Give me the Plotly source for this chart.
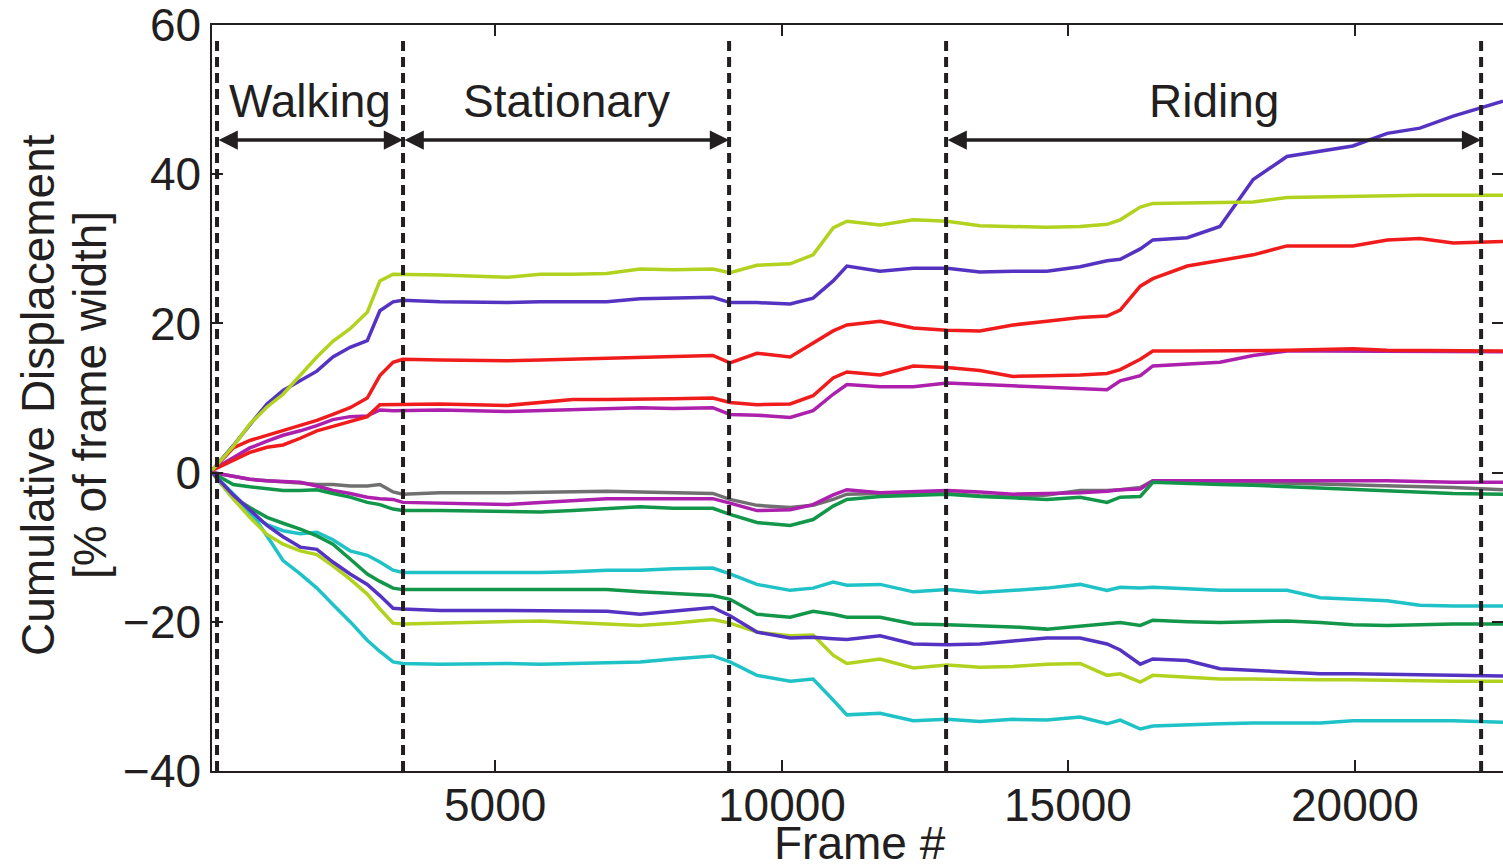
import plotly.graph_objects as go

# ---------------- data ----------------
FRAMES = [60, 430, 720, 1020, 1300, 1600, 1890, 2170, 2470, 2770, 2990, 3220,
          3390, 4040, 5210, 5790, 6360, 6950, 7530, 8110, 8800, 9100, 9570,
          10150, 10550, 10900, 11140, 11720, 12300, 12890, 13460, 14040, 14630,
          15210, 15680, 15910, 16260, 16480, 17080, 17650, 18230, 18820, 19400,
          19970, 20570, 21140, 21720, 22590]

YELLOWGREEN_1 = [0.3, 3.5, 6.5, 8.8, 10.5, 13.1, 15.5, 17.6, 19.3, 21.5, 25.7, 26.6,
                 26.6, 26.5, 26.2, 26.6, 26.6, 26.7, 27.3, 27.2, 27.3, 26.8, 27.8,
                 28.0, 29.2, 32.8, 33.7, 33.2, 33.9, 33.7, 33.1, 33.0, 32.9,
                 33.0, 33.3, 33.9, 35.6, 36.1, 36.2, 36.3, 36.3, 36.9, 37.0,
                 37.1, 37.1, 37.2, 37.2, 37.2]
BLUE_1 = [0.3, 3.6, 6.4, 9.2, 11.0, 12.3, 13.6, 15.5, 16.8, 17.7, 21.7, 22.9,
          23.1, 22.9, 22.8, 22.9, 22.9, 22.9, 23.3, 23.4, 23.5, 22.8, 22.8,
          22.6, 23.4, 25.7, 27.7, 27.0, 27.4, 27.4, 26.9, 27.0, 27.0,
          27.6, 28.4, 28.6, 30.0, 31.2, 31.5, 33.0, 39.3, 42.4, 43.1,
          43.8, 45.5, 46.2, 47.8, 49.8]
RED_1 = [0.3, 3.3, 4.3, 5.0, 5.6, 6.3, 7.0, 7.8, 8.7, 10.0, 13.0, 14.8,
         15.2, 15.1, 15.0, 15.1, 15.2, 15.3, 15.5, 15.5, 15.7, 14.7, 16.0,
         15.5, 17.4, 19.0, 19.8, 20.3, 19.4, 19.1, 19.0, 19.8, 20.3,
         20.8, 21.0, 21.8, 25.0, 26.0, 27.7, 28.5, 29.2, 30.4, 30.4,
         30.4, 31.2, 31.4, 30.8, 31.0]
RED_2 = [0.3, 1.6, 2.7, 3.4, 3.7, 4.6, 5.6, 6.2, 6.9, 7.5, 9.1, 9.1,
         9.1, 9.2, 9.0, 9.4, 9.8, 9.8, 9.8, 9.9, 10.0, 9.4, 9.1,
         9.2, 10.3, 12.7, 13.5, 13.1, 14.3, 14.1, 13.7, 12.9, 13.0,
         13.1, 13.3, 13.8, 15.2, 16.3, 16.3, 16.3, 16.3, 16.4, 16.5,
         16.6, 16.4, 16.4, 16.4, 16.3]
MAGENTA_1 = [0.3, 2.0, 3.3, 4.2, 5.0, 5.6, 6.3, 7.1, 7.5, 7.6, 8.4, 8.3,
             8.3, 8.4, 8.2, 8.3, 8.5, 8.6, 8.7, 8.6, 8.7, 7.8, 7.7,
             7.4, 8.3, 10.5, 11.8, 11.5, 11.5, 12.0, 11.8, 11.6, 11.4,
             11.3, 11.1, 12.3, 13.0, 14.3, 14.5, 14.8, 15.7, 16.3, 16.3,
             16.3, 16.3, 16.3, 16.3, 16.2]
GRAY_1 = [0.0, -0.5, -0.9, -1.1, -1.3, -1.4, -1.6, -1.6, -1.8, -1.8, -1.6, -2.6,
          -2.9, -2.7, -2.7, -2.6, -2.6, -2.5, -2.6, -2.7, -2.8, -3.6, -4.4,
          -4.7, -4.4, -3.6, -2.9, -2.8, -2.8, -2.8, -3.1, -3.3, -3.0,
          -2.4, -2.4, -2.3, -2.0, -1.1, -1.1, -1.2, -1.3, -1.4, -1.5,
          -1.6, -1.8, -1.9, -2.0, -2.3]
MAGENTA_2 = [0.0, -0.5, -0.9, -1.1, -1.2, -1.3, -1.8, -2.4, -2.8, -3.3, -3.5, -3.6,
             -4.0, -4.1, -4.3, -4.0, -3.7, -3.5, -3.5, -3.5, -3.5, -4.1, -5.1,
             -5.0, -4.3, -3.0, -2.3, -2.7, -2.5, -2.4, -2.6, -2.9, -2.8,
             -2.7, -2.5, -2.3, -2.2, -1.1, -1.1, -1.1, -1.1, -1.0, -1.0,
             -1.1, -1.1, -1.2, -1.3, -1.3]
GREEN_1 = [0.0, -1.6, -1.9, -2.2, -2.4, -2.4, -2.3, -2.8, -3.3, -4.0, -4.3, -4.9,
           -5.1, -5.1, -5.2, -5.3, -5.1, -4.8, -4.6, -4.8, -4.8, -5.6, -6.7,
           -7.1, -6.3, -4.5, -3.6, -3.2, -3.1, -2.9, -3.2, -3.4, -3.6,
           -3.3, -4.0, -3.3, -3.2, -1.3, -1.5, -1.6, -1.7, -1.9, -2.1,
           -2.3, -2.5, -2.7, -2.8, -2.9]
CYAN_1 = [0.0, -3.5, -5.5, -7.0, -7.8, -8.2, -8.0, -9.0, -10.5, -11.1, -12.0, -13.1,
          -13.4, -13.4, -13.5, -13.4, -13.3, -13.1, -13.1, -12.9, -12.8, -13.6, -15.0,
          -15.8, -15.5, -14.7, -15.1, -15.0, -16.0, -15.7, -16.1, -15.8, -15.5,
          -15.0, -15.8, -15.4, -15.5, -15.4, -15.6, -15.8, -15.8, -15.8, -16.8,
          -17.0, -17.2, -17.8, -17.9, -17.9]
GREEN_2 = [0.0, -3.3, -4.7, -6.0, -6.8, -7.6, -8.5, -9.6, -11.6, -13.6, -14.6, -15.5,
           -15.7, -15.7, -15.8, -15.8, -15.7, -15.7, -16.0, -16.2, -16.5, -17.0, -19.0,
           -19.4, -18.6, -19.0, -19.4, -19.4, -20.3, -20.4, -20.5, -20.7, -21.0,
           -20.6, -20.3, -20.1, -20.5, -19.8, -20.0, -20.1, -20.0, -19.9, -20.1,
           -20.4, -20.5, -20.4, -20.3, -20.3]
BLUE_2 = [0.0, -3.0, -5.0, -7.1, -8.6, -10.0, -10.3, -12.0, -13.6, -15.0, -16.5, -18.2,
          -18.3, -18.5, -18.5, -18.5, -18.6, -18.6, -19.0, -18.6, -18.1, -19.2, -21.4,
          -22.2, -22.1, -22.3, -22.4, -21.9, -23.0, -23.1, -23.0, -22.6, -22.2,
          -22.2, -23.0, -23.8, -25.7, -25.0, -25.2, -26.3, -26.5, -26.8, -27.0,
          -27.0, -27.1, -27.2, -27.2, -27.3]
YELLOWGREEN_2 = [0.0, -3.5, -6.0, -8.3, -9.6, -10.5, -11.0, -12.5, -14.3, -16.3, -18.3, -20.2,
                 -20.3, -20.2, -20.0, -19.9, -20.1, -20.3, -20.5, -20.2, -19.7, -20.2, -21.4,
                 -21.9, -21.8, -24.5, -25.6, -25.0, -26.2, -25.8, -26.1, -26.0, -25.7,
                 -25.6, -27.2, -27.0, -28.1, -27.2, -27.4, -27.7, -27.7, -27.8, -27.8,
                 -27.8, -27.9, -27.9, -28.0, -28.0]
CYAN_2 = [0.0, -2.9, -5.1, -8.5, -11.8, -13.6, -15.5, -17.7, -20.0, -22.5, -24.0, -25.4,
          -25.6, -25.7, -25.6, -25.7, -25.6, -25.5, -25.4, -25.0, -24.6, -25.4, -27.2,
          -28.0, -27.7, -30.5, -32.5, -32.3, -33.3, -33.1, -33.4, -33.1, -33.2,
          -32.8, -33.7, -33.2, -34.4, -34.0, -33.8, -33.7, -33.6, -33.6, -33.6,
          -33.3, -33.3, -33.2, -33.3, -33.5]

SERIES = [
    ("gray", GRAY_1, "#707070"),
    ("magenta 2", MAGENTA_2, "#ad1fad"),
    ("green 1", GREEN_1, "#12964a"),
    ("cyan 1", CYAN_1, "#1fc2c6"),
    ("green 2", GREEN_2, "#12964a"),
    ("cyan 2", CYAN_2, "#1fc2c6"),
    ("yellow-green 2", YELLOWGREEN_2, "#b1d21f"),
    ("blue 2", BLUE_2, "#5533c2"),
    ("magenta 1", MAGENTA_1, "#ad1fad"),
    ("red 2", RED_2, "#f01c1c"),
    ("red 1", RED_1, "#f01c1c"),
    ("blue 1", BLUE_1, "#5533c2"),
    ("yellow-green 1", YELLOWGREEN_1, "#b1d21f"),
]

PHASE_BOUNDARIES = [148, 3394, 9084, 12871, 22208]
PHASES = [("Walking", 148, 3394), ("Stationary", 3394, 9084), ("Riding", 12871, 22208)]
X_TICKS = [5000, 10000, 15000, 20000]
X_TICK_LABELS = ["5000", "10000", "15000", "20000"]
Y_TICKS = [-40, -20, 0, 20, 40, 60]
X_RANGE = [60, 22590]
Y_RANGE = [-40.03, 60.03]

FONT = "Liberation Sans, Arial, sans-serif"
INK = "#231f20"
FS = 46

fig = go.Figure()
for name, vals, col in SERIES:
    fig.add_trace(go.Scatter(x=FRAMES, y=vals, mode="lines", name=name,
                             line=dict(color=col, width=3.5), showlegend=False))

# invisible trace carrying the right-hand tick marks
fig.add_trace(go.Scatter(x=[X_RANGE[0]], y=[0], yaxis="y2", mode="lines",
                         showlegend=False, hoverinfo="skip", line=dict(width=0)))

for b in PHASE_BOUNDARIES:
    fig.add_shape(type="line", xref="x", yref="y", x0=b, x1=b, y0=Y_RANGE[0], y1=58.6,
                  line=dict(color=INK, width=4, dash="10px,6px"))

for label, a, b in PHASES:
    fig.add_annotation(x=b, y=44.6, ax=a, ay=44.6, xref="x", yref="y", axref="x", ayref="y",
                       text="", showarrow=True, arrowhead=2, arrowside="end+start",
                       arrowsize=1.1, arrowwidth=3.5, arrowcolor=INK)
    fig.add_annotation(x=(a + b) / 2, y=49.8, xref="x", yref="y", text=label,
                       showarrow=False, font=dict(family=FONT, size=FS, color=INK))

# x tick labels placed just below the axis
for v, t in zip(X_TICKS, X_TICK_LABELS):
    fig.add_annotation(x=v, y=0, xref="x", yref="paper", text=t, showarrow=False,
                       yanchor="middle", xanchor="center", yshift=-34,
                       font=dict(family=FONT, size=FS, color=INK))

fig.add_annotation(x=-0.1348, y=0.504, xref="paper", yref="paper", text="Cumulative Displacement",
                   textangle=-90, xanchor="center", yanchor="middle", showarrow=False,
                   font=dict(family=FONT, size=FS, color=INK))
fig.add_annotation(x=-0.0945, y=0.504, xref="paper", yref="paper", text="[% of frame width]",
                   textangle=-90, xanchor="center", yanchor="middle", showarrow=False,
                   font=dict(family=FONT, size=FS, color=INK))
fig.add_annotation(x=0.502, y=-0.096, xref="paper", yref="paper", text="Frame #",
                   xanchor="center", yanchor="middle", showarrow=False,
                   font=dict(family=FONT, size=FS, color=INK))

fig.update_layout(
    width=1503, height=868,
    margin=dict(l=212, r=0, t=25, b=97),
    paper_bgcolor="white", plot_bgcolor="white",
    font=dict(family=FONT, size=FS, color=INK),
    xaxis=dict(range=X_RANGE, tickvals=X_TICKS, showticklabels=False, ticks="inside",
               ticklen=11, tickwidth=1.5, tickcolor=INK, showline=True, linecolor=INK,
               linewidth=1.5, mirror="ticks", showgrid=False, zeroline=False),
    yaxis=dict(range=Y_RANGE, tickvals=Y_TICKS, ticks="inside", ticklen=11, tickwidth=1.5,
               tickcolor=INK, showline=True, linecolor=INK, linewidth=1.5, mirror=False,
               showgrid=False, zeroline=False, ticklabeloverflow="allow",
               tickfont=dict(family=FONT, size=FS, color=INK)),
    yaxis2=dict(range=Y_RANGE, tickvals=Y_TICKS, overlaying="y", side="right", ticks="inside",
                ticklen=11, tickwidth=1.5, tickcolor=INK, showline=False, showticklabels=False,
                showgrid=False, zeroline=False),
)

fig.write_html("out.html")
